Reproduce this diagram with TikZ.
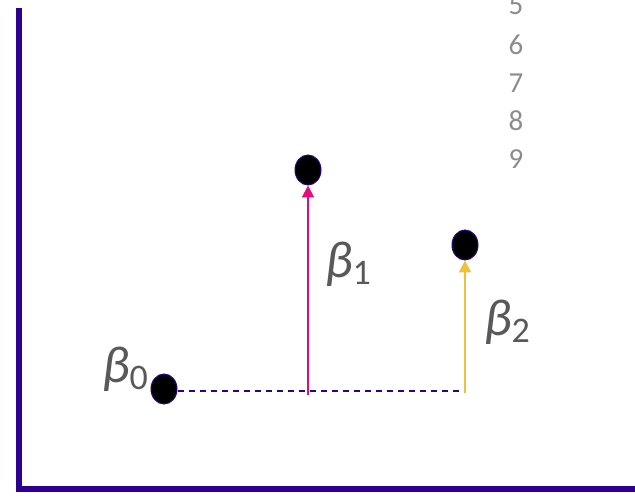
\documentclass[tikz,border=0pt]{standalone}
\usepackage{fontspec}
\setsansfont{Carlito}
\usetikzlibrary{arrows.meta,shapes.geometric}
\definecolor{eje}{HTML}{2E0090}
\definecolor{rosa}{HTML}{E8097F}
\definecolor{oro}{HTML}{F0C03A}
\definecolor{gris}{HTML}{595959}
\definecolor{grisclaro}{HTML}{8C8C8C}
\tikzset{
  punto/.style={ellipse,draw=eje,line width=1pt,fill=black,minimum width=26pt,minimum height=30pt,inner sep=0pt},
  beta/.style={font=\sffamily\fontsize{52}{54}\selectfont,text=gris,inner sep=0pt},
  flecha/.style={-{Triangle[length=12pt,width=12pt]},line width=2pt},
  cifra/.style={font=\sffamily\fontsize{29}{31}\selectfont,text=grisclaro,inner sep=0pt},
}
\newcommand{\coef}[1]{\textit{β}\raisebox{-0.3ex}{\fontsize{36}{38}\selectfont #1}}

\begin{document}
\begin{tikzpicture}[x=1pt,y=-1pt]
  \useasboundingbox (0,0) rectangle (635,497);
  % ejes
  \draw[eje,line width=6pt] (19,8) -- (19,489) -- (636,489);
  % numeros de linea
  \foreach \n/\y in {5/5,6/45,7/83,8/121,9/159}
    \node[cifra] (n\n) at (516,\y) {\n};
  % puntos
  \node[punto] (p0) at (164,389) {};
  \node[punto] (p1) at (308,170) {};
  \node[punto] (p2) at (465,245) {};
  \coordinate (c1) at (308,395);
  \coordinate (c2) at (465,393);
  \coordinate (c) at (466,391);
  \draw[eje,line width=1.3pt,dash pattern=on 6pt off 5pt] (p0.east |- c) -- (c);
  \draw[flecha,rosa] (c1) -- (p1.south);
  \draw[flecha,oro] (c2) -- (p2.south);
  % etiquetas
  \node[beta] (b0) at (125,369) {\coef{0}};
  \node[beta] (b1) at (348,264) {\coef{1}};
  \node[beta] (b2) at (507,322) {\coef{2}};
\end{tikzpicture}
\end{document}
